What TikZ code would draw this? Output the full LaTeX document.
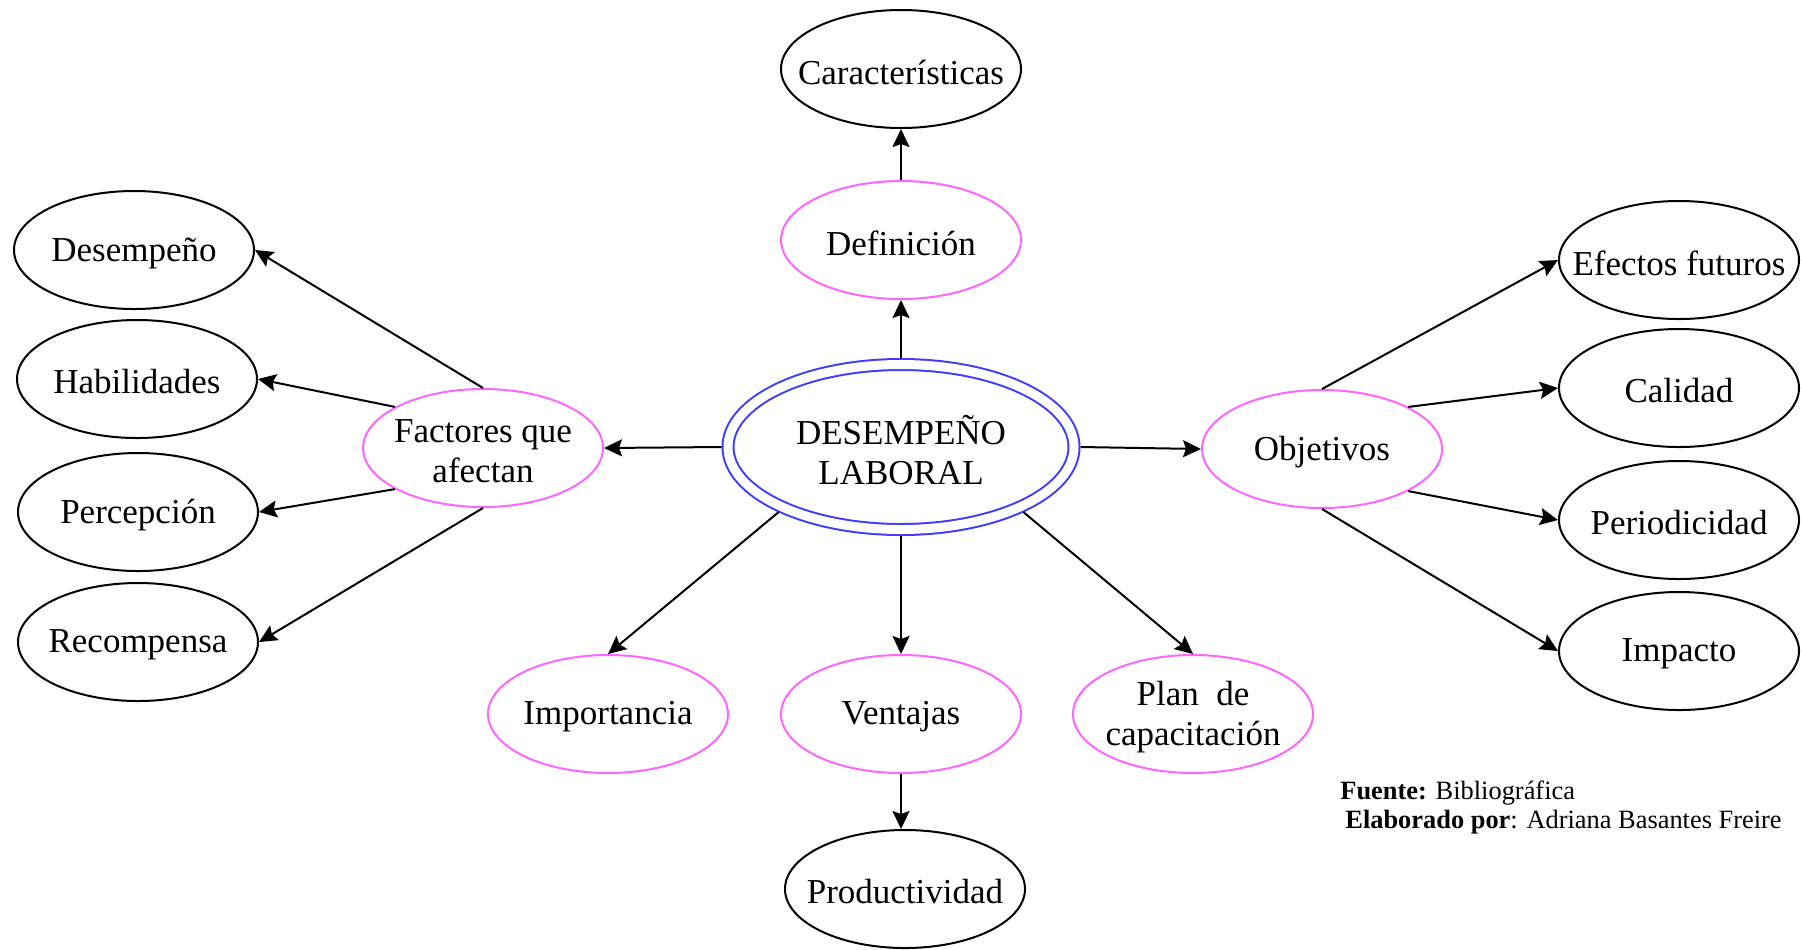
\documentclass[tikz,border=0pt]{standalone}
\usepackage{fontspec}
\setmainfont{Liberation Serif}
\usetikzlibrary{shapes.geometric,arrows.meta}
\definecolor{pinkC}{RGB}{255,102,255}
\definecolor{blueC}{RGB}{60,60,255}
\begin{document}
\begin{tikzpicture}[x=0.5pt,y=-0.5pt,
 txt/.style={font=\fontsize{17.5}{20}\selectfont, align=center, inner sep=0pt, yshift=-1.5pt},
 ell/.style={ellipse, minimum width=120pt, minimum height=59pt, inner sep=0pt, line width=1pt, label={[txt]center:#1}},
 blk/.style={ell={#1}, draw=black},
 pnk/.style={ell={#1}, draw=pinkC},
 mainell/.style={ellipse, draw=blueC, double=white, double distance=4.5pt, line width=1pt,
   minimum width=173pt, minimum height=82.5pt, inner sep=0pt, outer sep=3.25pt, label={[txt]center:#1}},
 arr/.style={line width=1pt, -{Stealth[length=9pt,width=8.5pt,inset=1.5pt]}},
 foot/.style={font=\fontsize{13.2}{16}\selectfont, anchor=west, inner sep=0pt}]
\fill[white] (0,0) rectangle (1802,949);
\useasboundingbox (0,0) rectangle (1802,949);

\node[mainell={DESEMPEÑO\\LABORAL}] (main) at (901,447) {};
\node[blk={Características}] (cara) at (901,69) {};
\node[pnk={Definición}] (defi) at (901,240) {};
\node[pnk={Factores que\\afectan}] (fact) at (483,448) {};
\node[pnk={Objetivos}] (obje) at (1322,449) {};
\node[pnk={Importancia}] (impo) at (608,714) {};
\node[pnk={Ventajas}] (vent) at (901,714) {};
\node[pnk={Plan \ de\\capacitación}] (plan) at (1193,714) {};
\node[blk={Productividad}] (prod) at (905,889) {};
\node[blk={Desempeño}] (desm) at (134,250) {};
\node[blk={Habilidades}] (habi) at (137,379) {};
\node[blk={Percepción}] (perc) at (138,512) {};
\node[blk={Recompensa}] (reco) at (138,642) {};
\node[blk={Efectos futuros}] (efec) at (1679,260) {};
\node[blk={Calidad}] (cali) at (1679,388) {};
\node[blk={Periodicidad}] (peri) at (1679,520) {};
\node[blk={Impacto}] (impa) at (1679,651) {};

\draw[arr] (defi.north) -- (cara.south);
\draw[arr] (main.north) -- (defi.south);
\draw[arr] (main.west) -- (fact.east);
\draw[arr] (main.east) -- (obje.west);
\draw[arr] (main.208) -- (impo.north);
\draw[arr] (main.south) -- (vent.north);
\draw[arr] (main.332) -- (plan.north);
\draw[arr] (vent.south) -- (vent.south |- prod.north);
\draw[arr] (fact.north) -- (desm.east);
\draw[arr] (fact.155) -- (habi.east);
\draw[arr] (fact.205) -- (perc.east);
\draw[arr] (fact.south) -- (reco.east);
\draw[arr] (obje.north) -- (efec.west);
\draw[arr] (obje.26) -- (cali.west);
\draw[arr] (obje.334) -- (peri.west);
\draw[arr] (obje.south) -- (impa.west);

\node[foot] (fuente) at (1340,793) {\textbf{Fuente:} Bibliográfica};
\node[foot] (elab) at (1345,822) {\textbf{Elaborado por}: Adriana Basantes Freire};
\end{tikzpicture}
\end{document}
